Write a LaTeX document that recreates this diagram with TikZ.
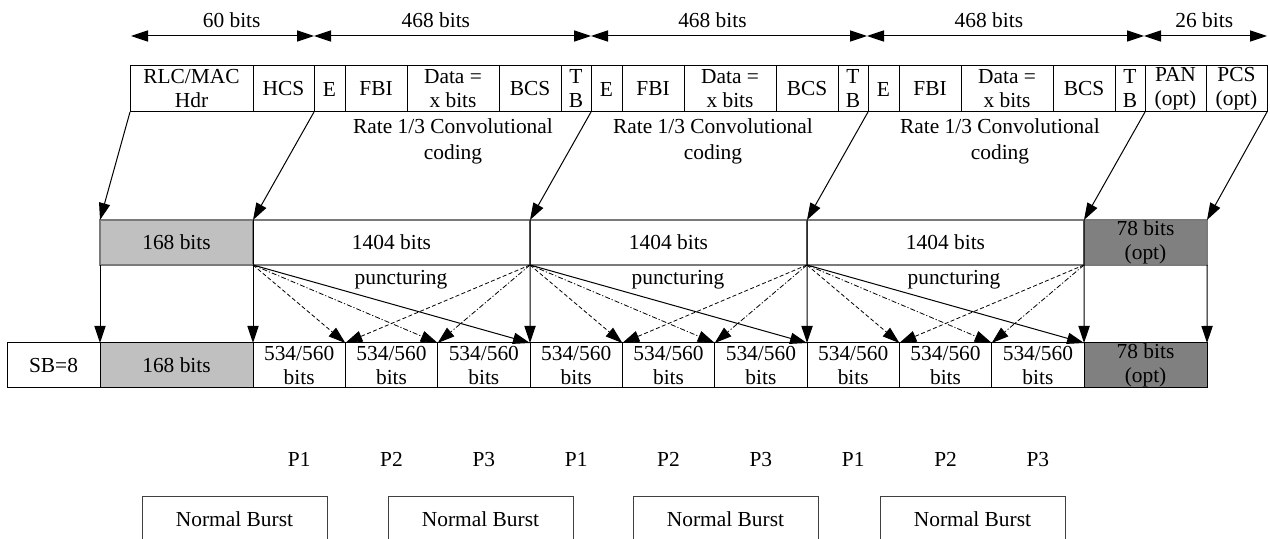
\documentclass[tikz,border=0pt]{standalone}
\usepackage{fontspec}
\setmainfont{Liberation Serif}
\usetikzlibrary{arrows.meta, positioning}
\definecolor{lightfill}{HTML}{C0C0C0}
\definecolor{darkfill}{HTML}{808080}
\definecolor{edgegray}{HTML}{7A7A7A}

\begin{document}
\begin{tikzpicture}[
    x=0.5pt, y=-0.5pt,
    line width=0.5pt,
    every node/.style={font=\fontsize{10.7}{12}\selectfont},
    cell/.style={
        draw, inner sep=0pt, outer sep=0pt,
        minimum height=23pt, align=center
    },
    coded/.style={
        cell, draw=edgegray, line width=0.8pt,
        minimum height=22.5pt
    },
    slot/.style={
        cell, minimum height=22.5pt,
        minimum width=46.17pt
    },
    burst/.style={
        draw=black!75, inner xsep=0pt, inner ysep=7.8pt,
        minimum width=92.5pt, anchor=north
    },
    coding/.style={align=center, font=\fontsize{10.7}{13}\selectfont},
    arrow/.style={-{Triangle[length=8.5pt,width=5.6pt]}},
    dimarrow/.style={{Triangle[length=8.5pt,width=5.6pt]}-{Triangle[length=8.5pt,width=5.6pt]}},
    punctdash/.style={arrow, line width=0.4pt, dash pattern=on 2pt off 1.2pt},
    punctdot/.style={arrow, line width=0.4pt, dash pattern=on 2.5pt off 1pt on 0.6pt off 1pt},
]
\useasboundingbox (0,0) rectangle (1270,539);
\clip (0,0) rectangle (1270,539);

% Bit counts
\coordinate (d0) at (131,36);
\coordinate (d1) at (314,36);
\coordinate (d2) at (591,36);
\coordinate (d3) at (867,36);
\coordinate (d4) at (1144,36);
\coordinate (d5) at (1267,36);

\draw [dimarrow] (d0) -- node[above=0.5pt, pos=0.55]{60 bits} (d1);
\draw [dimarrow] (d1) -- node[above=0.5pt, pos=0.44]{468 bits} (d2);
\draw [dimarrow] (d2) -- node[above=0.5pt, pos=0.44]{468 bits} (d3);
\draw [dimarrow] (d3) -- node[above=0.5pt, pos=0.44]{468 bits} (d4);
\draw [dimarrow] (d4) -- node[above=0.5pt, pos=0.49]{26 bits} (d5);

% Radio block
\node (hdr) [cell, minimum width=61.5pt, anchor=north west] at (130,66) {RLC/MAC\\Hdr};
\node (hcs) [cell, minimum width=30.5pt, right=0pt of hdr] {HCS};

\node (e1) [cell, minimum width=15.5pt, right=0pt of hcs] {E};
\node (fbi1) [cell, minimum width=31pt, right=0pt of e1] {FBI};
\node (data1) [cell, minimum width=46pt, right=0pt of fbi1] {Data =\\x bits};
\node (bcs1) [cell, minimum width=31pt, right=0pt of data1] {BCS};
\node (tb1) [cell, minimum width=15pt, right=0pt of bcs1] {T\\B};

\node (e2) [cell, minimum width=15.5pt, right=0pt of tb1] {E};
\node (fbi2) [cell, minimum width=31pt, right=0pt of e2] {FBI};
\node (data2) [cell, minimum width=46pt, right=0pt of fbi2] {Data =\\x bits};
\node (bcs2) [cell, minimum width=31pt, right=0pt of data2] {BCS};
\node (tb2) [cell, minimum width=15pt, right=0pt of bcs2] {T\\B};

\node (e3) [cell, minimum width=15.5pt, right=0pt of tb2] {E};
\node (fbi3) [cell, minimum width=31pt, right=0pt of e3] {FBI};
\node (data3) [cell, minimum width=46pt, right=0pt of fbi3] {Data =\\x bits};
\node (bcs3) [cell, minimum width=31pt, right=0pt of data3] {BCS};
\node (tb3) [cell, minimum width=15pt, right=0pt of bcs3] {T\\B};

\node (pan) [cell, minimum width=30.5pt, right=0pt of tb3] {PAN\\(opt)};
\node (pcs) [cell, minimum width=30.5pt, right=0pt of pan] {PCS\\(opt)};

\node (rate1) [coding] at (453,141) {Rate 1/3 Convolutional\\coding};
\node (rate2) [coding] at (713,141) {Rate 1/3 Convolutional\\coding};
\node (rate3) [coding] at (1000,141) {Rate 1/3 Convolutional\\coding};

% Coded blocks
\node (pre) [coded, fill=lightfill, minimum width=76.5pt, anchor=north west] at (100,220) {168 bits};
\node (blk1) [coded, minimum width=138.5pt, right=0pt of pre] {1404 bits};
\node (blk2) [coded, minimum width=138.5pt, right=0pt of blk1] {1404 bits};
\node (blk3) [coded, minimum width=138.5pt, right=0pt of blk2] {1404 bits};
\node (post) [coded, fill=darkfill, minimum width=61.5pt, right=0pt of blk3] {78 bits\\(opt)};

\node (punc1) at (401,280) {puncturing};
\node (punc2) at (678,280) {puncturing};
\node (punc3) at (954,280) {puncturing};

% Punctured blocks
\node (sb) [slot, minimum width=46.5pt, anchor=north west] at (7,343) {SB=8};
\node (hdrbits) [slot, fill=lightfill, minimum width=76.5pt, right=0pt of sb] {168 bits};
\node (p11) [slot, right=0pt of hdrbits] {534/560\\bits};
\node (p12) [slot, right=0pt of p11] {534/560\\bits};
\node (p13) [slot, right=0pt of p12] {534/560\\bits};
\node (p21) [slot, right=0pt of p13] {534/560\\bits};
\node (p22) [slot, right=0pt of p21] {534/560\\bits};
\node (p23) [slot, right=0pt of p22] {534/560\\bits};
\node (p31) [slot, right=0pt of p23] {534/560\\bits};
\node (p32) [slot, right=0pt of p31] {534/560\\bits};
\node (p33) [slot, right=0pt of p32] {534/560\\bits};
\node (tail) [slot, fill=darkfill, minimum width=61.5pt, right=0pt of p33] {78 bits\\(opt)};

\node (lab11) [below=28.5pt of p11] {P1};
\node (lab12) [below=28.5pt of p12] {P2};
\node (lab13) [below=28.5pt of p13] {P3};
\node (lab21) [below=28.5pt of p21] {P1};
\node (lab22) [below=28.5pt of p22] {P2};
\node (lab23) [below=28.5pt of p23] {P3};
\node (lab31) [below=28.5pt of p31] {P1};
\node (lab32) [below=28.5pt of p32] {P2};
\node (lab33) [below=28.5pt of p33] {P3};

% Bursts
\node (nb1) [burst] at (234.5,496) {Normal Burst};
\node (nb2) [burst] at (480.5,496) {Normal Burst};
\node (nb3) [burst] at (725.5,496) {Normal Burst};
\node (nb4) [burst] at (972.5,496) {Normal Burst};

% Arrows
\draw [arrow] (hdr.south west) -- (pre.north west);
\draw [arrow] (hcs.south east) -- (blk1.north west);
\draw [arrow] (tb1.south east) -- (blk2.north west);
\draw [arrow] (tb2.south east) -- (blk3.north west);
\draw [arrow] (tb3.south east) -- (post.north west);
\draw [arrow] (pcs.south east) -- (post.north east);

\draw [arrow] (pre.south west) -- (hdrbits.north west);
\draw [arrow] (blk1.north west) -- (p11.north west);
\draw [arrow] (blk2.north west) -- (p21.north west);
\draw [arrow] (blk3.north west) -- (p31.north west);
\draw [arrow] (post.north west) -- (tail.north west);
\draw [arrow] (post.south east) -- (tail.north east);

\draw [punctdash] (blk1.south west) -- (p11.north east);
\draw [punctdot] (blk1.south west) -- (p12.north east);
\draw [arrow] (blk1.south west) -- (p13.north east);
\draw [punctdash] (blk1.south east) -- (p11.north east);
\draw [punctdot] (blk1.south east) -- (p12.north east);

\draw [punctdash] (blk2.south west) -- (p21.north east);
\draw [punctdot] (blk2.south west) -- (p22.north east);
\draw [arrow] (blk2.south west) -- (p23.north east);
\draw [punctdash] (blk2.south east) -- (p21.north east);
\draw [punctdot] (blk2.south east) -- (p22.north east);

\draw [punctdash] (blk3.south west) -- (p31.north east);
\draw [punctdot] (blk3.south west) -- (p32.north east);
\draw [arrow] (blk3.south west) -- (p33.north east);
\draw [punctdash] (blk3.south east) -- (p31.north east);
\draw [punctdot] (blk3.south east) -- (p32.north east);

\end{tikzpicture}
\end{document}
